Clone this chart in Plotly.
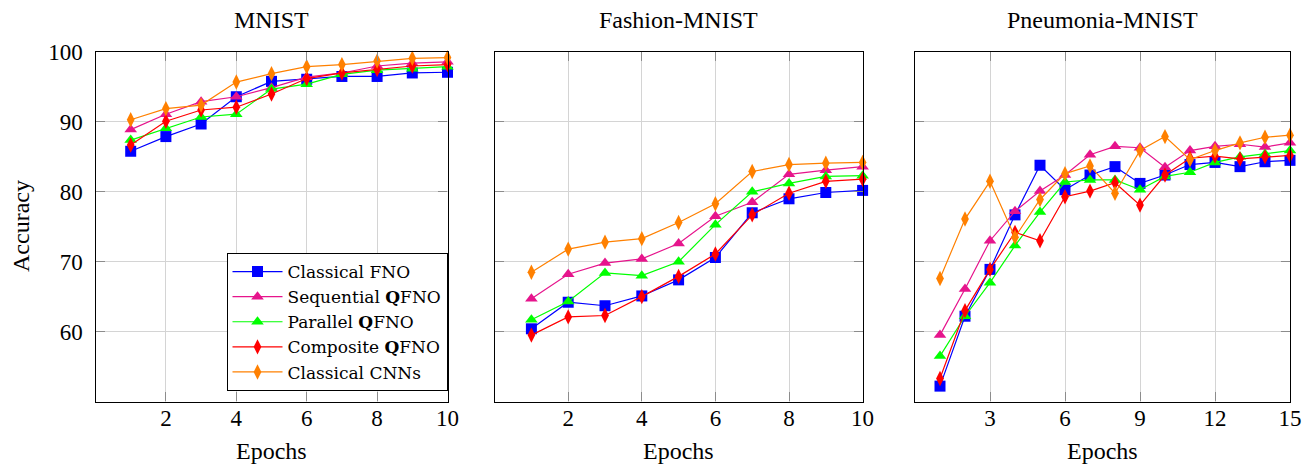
import plotly.graph_objects as go

# ---------------- data ----------------
epochs_mnist = [1, 2, 3, 4, 5, 6, 7, 8, 9, 10]
epochs_fashion = [1, 2, 3, 4, 5, 6, 7, 8, 9, 10]
epochs_pneu = [1, 2, 3, 4, 5, 6, 7, 8, 9, 10, 11, 12, 13, 14, 15]

series_names = ["Classical FNO", "Sequential <b>Q</b>FNO", "Parallel <b>Q</b>FNO",
                "Composite <b>Q</b>FNO", "Classical CNNs"]

mnist_fno = [85.8, 87.9, 89.7, 93.6, 95.8, 96.1, 96.5, 96.5, 97.0, 97.1]
mnist_seq = [88.9, 91.1, 92.9, 93.6, 94.9, 96.4, 97.0, 98.0, 98.4, 98.6]
mnist_par = [87.4, 89.1, 90.7, 91.1, 94.7, 95.4, 96.8, 97.4, 97.6, 97.9]
mnist_comp = [86.7, 90.1, 91.7, 92.1, 94.0, 96.2, 97.0, 97.5, 98.0, 98.2]
mnist_cnn = [90.3, 91.9, 92.4, 95.7, 96.9, 97.9, 98.2, 98.7, 99.1, 99.2]

fashion_fno = [60.4, 64.2, 63.7, 65.1, 67.4, 70.6, 77.0, 79.0, 79.9, 80.2]
fashion_seq = [64.7, 68.2, 69.8, 70.4, 72.6, 76.5, 78.5, 82.5, 83.1, 83.6]
fashion_par = [61.7, 64.3, 68.4, 68.0, 70.0, 75.3, 80.0, 81.2, 82.2, 82.3]
fashion_comp = [59.5, 62.1, 62.3, 65.0, 67.9, 71.1, 76.7, 79.8, 81.5, 81.8]
fashion_cnn = [68.5, 71.8, 72.8, 73.3, 75.6, 78.3, 82.9, 83.9, 84.1, 84.2]

pneu_fno = [52.2, 62.2, 68.9, 76.7, 83.8, 80.3, 82.4, 83.6, 81.2, 82.4, 83.9, 84.2, 83.6, 84.3, 84.5]
pneu_seq = [59.5, 66.1, 73.0, 77.2, 80.1, 82.4, 85.3, 86.5, 86.3, 83.5, 85.9, 86.5, 86.8, 86.4, 87.0]
pneu_par = [56.5, 62.2, 67.0, 72.3, 77.1, 81.4, 81.7, 81.7, 80.3, 82.2, 82.8, 84.2, 85.0, 85.4, 85.9]
pneu_comp = [53.3, 63.0, 68.9, 74.2, 73.0, 79.3, 80.1, 81.3, 78.1, 82.4, 84.8, 85.1, 84.7, 85.0, 85.2]
pneu_cnn = [67.6, 76.1, 81.5, 73.5, 78.9, 82.6, 83.7, 79.8, 85.9, 87.9, 84.6, 85.9, 87.0, 87.8, 88.1]

panel_titles = ["MNIST", "Fashion-MNIST", "Pneumonia-MNIST"]
x_ticks_10 = [2, 4, 6, 8, 10]
x_ticks_15 = [3, 6, 9, 12, 15]
y_ticks = [60, 70, 80, 90, 100]

# ---------------- style ----------------
colors = ["#0000FF", "#E6148C", "#00FF00", "#FF0000", "#FF8000"]
symbols = ["square", "triangle-up", "triangle-up", "diamond-tall", "diamond-tall"]
sizes = [11, 11, 11, 11, 11]
FONT = "Liberation Serif"
LEGEND_FONT = "DejaVu Serif"

W, H = 1312, 464
panels_px = [(95.5, 447.5), (494.6, 862.6), (915.0, 1290.0)]
top_px, bot_px = 52.0, 401.5

fig = go.Figure()

datasets = [
    (epochs_mnist, [mnist_fno, mnist_seq, mnist_par, mnist_comp, mnist_cnn]),
    (epochs_fashion, [fashion_fno, fashion_seq, fashion_par, fashion_comp, fashion_cnn]),
    (epochs_pneu, [pneu_fno, pneu_seq, pneu_par, pneu_comp, pneu_cnn]),
]

for p, (xs, ys_list) in enumerate(datasets):
    suffix = "" if p == 0 else str(p + 1)
    for i, ys in enumerate(ys_list):
        fig.add_trace(go.Scatter(
            x=xs, y=ys, mode="lines+markers",
            name=series_names[i],
            showlegend=(p == 0),
            line=dict(color=colors[i], width=1.2),
            marker=dict(symbol=symbols[i], size=sizes[i], color=colors[i],
                        line=dict(width=0)),
            xaxis="x" + suffix, yaxis="y" + suffix,
            cliponaxis=False,
        ))

layout = dict(
    width=W, height=H,
    margin=dict(l=0, r=0, t=0, b=0, autoexpand=False),
    paper_bgcolor="white", plot_bgcolor="white",
    font=dict(family=FONT, size=23, color="black"),
    legend=dict(
        x=447.5 / W, xanchor="right", y=(H - 391) / H, yanchor="bottom",
        bordercolor="black", borderwidth=1, bgcolor="white",
        font=dict(family=LEGEND_FONT, size=17), tracegroupgap=0,
        itemwidth=50,
    ),
)

ydom = [(H - bot_px) / H, (H - top_px) / H]
for p, (x0, x1) in enumerate(panels_px):
    suffix = "" if p == 0 else str(p + 1)
    xr = [0, 10] if p < 2 else [0, 15]
    xt = x_ticks_10 if p < 2 else x_ticks_15
    common = dict(showline=True, linecolor="black", linewidth=1.2, mirror="ticks",
                  ticks="inside", ticklen=9, tickcolor="#8c8c8c", tickwidth=1,
                  showgrid=True, gridcolor="#d4d4d4", gridwidth=1, zeroline=False,
                  tickfont=dict(family=FONT, size=23), automargin=False)
    layout["xaxis" + suffix] = dict(
        domain=[x0 / W, x1 / W], range=xr, tickvals=xt, ticklabelstandoff=-4,
        anchor="y" + suffix, **common)
    layout["yaxis" + suffix] = dict(
        domain=ydom, range=[50, 100], tickvals=y_ticks, ticklabelstandoff=7,
        anchor="x" + suffix, showticklabels=(p == 0), **common)

fig.update_layout(**layout)

annotations = []
for p, (x0, x1) in enumerate(panels_px):
    cx = (x0 + x1) / 2 / W
    annotations.append(dict(text=panel_titles[p], x=cx, y=(H - 20) / H, xref="paper", yref="paper",
                            showarrow=False, xanchor="center", yanchor="middle",
                            font=dict(family=FONT, size=24)))
    annotations.append(dict(text="Epochs", x=cx, y=(H - 451) / H, xref="paper", yref="paper",
                            showarrow=False, xanchor="center", yanchor="middle",
                            font=dict(family=FONT, size=24)))
annotations.append(dict(text="Accuracy", x=21 / W, y=(H - 226) / H, xref="paper", yref="paper",
                        showarrow=False, textangle=-90, xanchor="center", yanchor="middle",
                        font=dict(family=FONT, size=24)))
fig.update_layout(annotations=annotations)

fig.write_html("out.html", config={"displayModeBar": False},
               post_script="document.body.style.margin='0';document.body.style.overflow='hidden';")
